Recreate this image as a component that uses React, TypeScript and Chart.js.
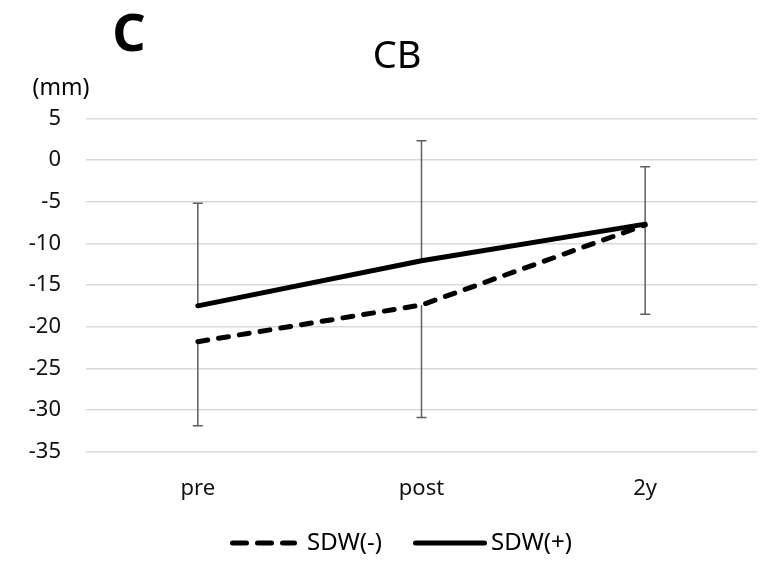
import React, { useEffect, useRef } from "react";
import { Chart, registerables } from "chart.js";

Chart.register(...registerables);

// ---- data ----
const categories = ["pre", "post", "2y"];
const seriesNames = ["SDW(-)", "SDW(+)"];
const sdwMinus = [-21.8, -17.4, -7.8];
const sdwMinusErrDown = [10.1, 13.5, 10.7];
const sdwPlus = [-17.5, -12.1, -7.7];
const sdwPlusErrUp = [12.3, 14.4, 6.9];
const yMin = -35;
const yMax = 5;
const yStep = 5;

const FONT = "'Noto Sans', 'Open Sans', sans-serif";

const errorBarPlugin = {
  id: "errorBars",
  beforeDatasetsDraw(chart: any) {
    const { ctx, scales } = chart;
    const x = scales.x;
    const y = scales.y;
    ctx.save();
    ctx.strokeStyle = "#5f5f5f";
    ctx.lineWidth = 1.5;
    chart.data.datasets.forEach((ds: any) => {
      const up: number[] | undefined = ds.errUp;
      const down: number[] | undefined = ds.errDown;
      ds.data.forEach((v: number, i: number) => {
        const px = x.getPixelForValue(i);
        const py = y.getPixelForValue(v);
        const ends: number[] = [];
        if (up) ends.push(v + up[i]);
        if (down) ends.push(v - down[i]);
        ends.forEach((e) => {
          const pe = y.getPixelForValue(e);
          ctx.beginPath();
          ctx.moveTo(px, py);
          ctx.lineTo(px, pe);
          ctx.moveTo(px - 5, pe);
          ctx.lineTo(px + 5, pe);
          ctx.stroke();
        });
      });
    });
    ctx.restore();
  },
};

const textPlugin = {
  id: "extraText",
  afterDraw(chart: any) {
    const { ctx } = chart;
    ctx.save();
    ctx.fillStyle = "#000";
    ctx.textAlign = "center";
    ctx.textBaseline = "middle";
    ctx.font = `bold 52px ${FONT}`;
    ctx.fillText("C", 129, 36);
    ctx.font = `38px ${FONT}`;
    ctx.fillText("CB", 397, 57);
    ctx.font = `23px ${FONT}`;
    ctx.fillText("(mm)", 61, 88);

    // legend
    const items = [
      { sx: 230, sw: 67, tx: 307, dash: [14, 11] },
      { sx: 413, sw: 74, tx: 491, dash: [] as number[] },
    ];
    const ly = 543;
    chart.data.datasets.forEach((ds: any, i: number) => {
      const it = items[i];
      ctx.beginPath();
      ctx.setLineDash(it.dash);
      ctx.lineCap = "round";
      ctx.lineWidth = 5;
      ctx.strokeStyle = "#000";
      ctx.moveTo(it.sx + 2.5, ly);
      ctx.lineTo(it.sx + it.sw - 2.5, ly);
      ctx.stroke();
      ctx.setLineDash([]);
      ctx.textAlign = "left";
      ctx.font = `24px ${FONT}`;
      ctx.fillText(ds.label, it.tx, ly);
    });
    ctx.restore();
  },
};

export default function App() {
  const ref = useRef<HTMLCanvasElement | null>(null);
  useEffect(() => {
    if (!ref.current) return;
    const chart = new Chart(ref.current, {
      type: "line",
      data: {
        labels: categories,
        datasets: [
          {
            label: seriesNames[0],
            data: sdwMinus,
            errDown: sdwMinusErrDown,
            borderColor: "#000",
            borderWidth: 5,
            borderDash: [10, 11],
            borderCapStyle: "round",
            pointRadius: 0,
            tension: 0,
          } as any,
          {
            label: seriesNames[1],
            data: sdwPlus,
            errUp: sdwPlusErrUp,
            borderColor: "#000",
            borderWidth: 5,
            borderCapStyle: "round",
            pointRadius: 0,
            tension: 0,
          } as any,
        ],
      },
      options: {
        animation: false,
        responsive: true,
        maintainAspectRatio: false,
        layout: { padding: { top: 118.3, right: 11, bottom: 58.3, left: 0 } },
        plugins: {
          legend: { display: false },
          tooltip: { enabled: false },
          title: { display: false },
        },
        scales: {
          x: {
            type: "category",
            offset: true,
            grid: { display: false, drawTicks: false },
            border: { display: false },
            ticks: {
              color: "#111",
              font: { family: FONT, size: 22 },
              padding: 24,
            },
            afterFit: (s: any) => {
              s.height = 60;
            },
          },
          y: {
            min: yMin,
            max: yMax,
            ticks: {
              stepSize: yStep,
              color: "#111",
              font: { family: FONT, size: 22 },
              padding: 25,
            },
            grid: { color: "#d9d9d9", lineWidth: 1.5, drawTicks: false },
            border: { display: false },
            afterFit: (s: any) => {
              s.width = 86;
            },
          },
        },
      },
      plugins: [errorBarPlugin, textPlugin],
    });
    return () => chart.destroy();
  }, []);
  return (
    <div style={{ position: "absolute", left: 0, top: 0, width: 768, height: 570, background: "#fff" }}>
      <canvas ref={ref} />
    </div>
  );
}
